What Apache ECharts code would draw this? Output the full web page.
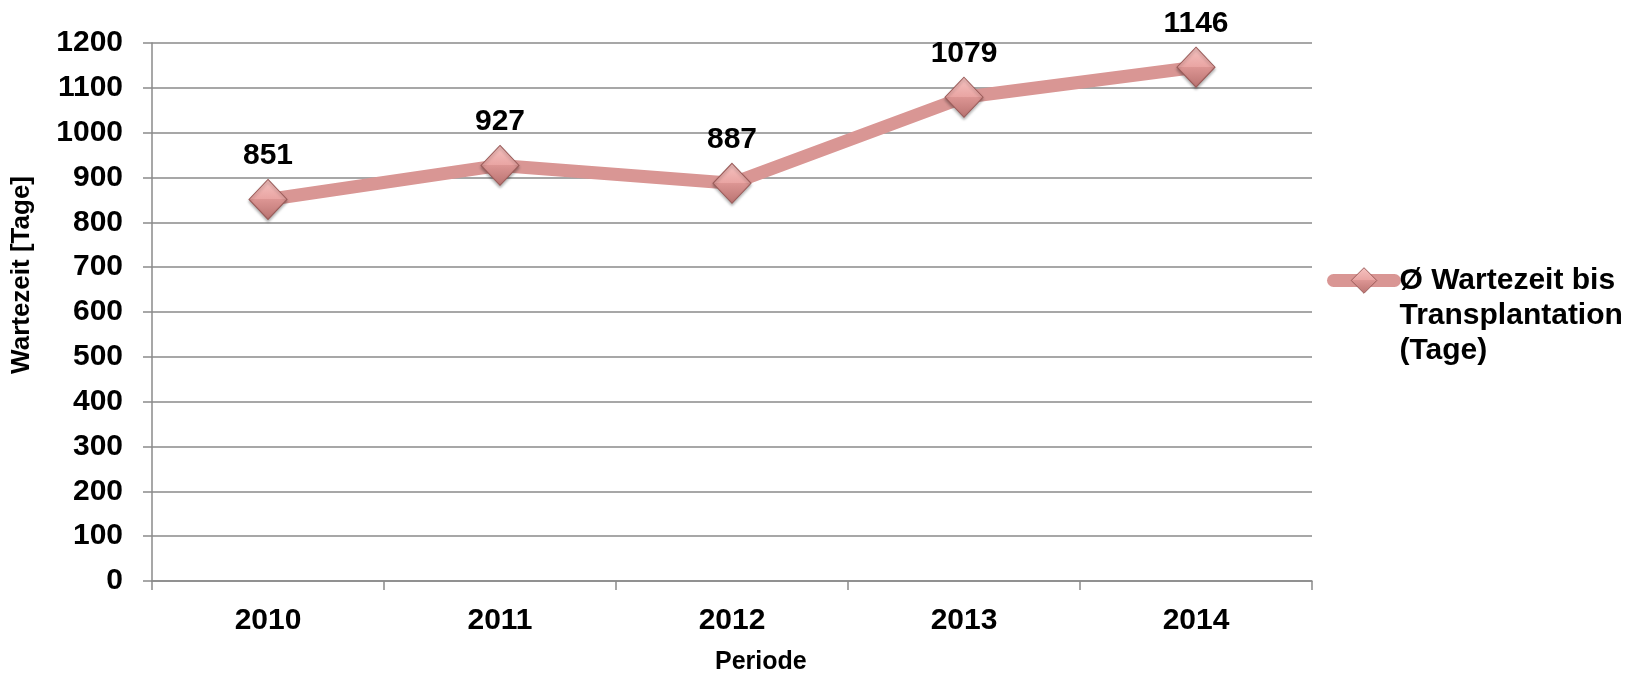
<!DOCTYPE html>
<html><head><meta charset="utf-8">
<script src="https://cdn.jsdelivr.net/npm/echarts@6/dist/echarts.min.js"></script>
<style>html,body{margin:0;padding:0;background:#fff}#c{width:1639px;height:678px}</style>
</head><body><div id="c"></div>
<script>
var categories = ['2010', '2011', '2012', '2013', '2014'];
var waitDays = [851, 927, 887, 1079, 1146];
var seriesName = 'Ø Wartezeit bis Transplantation (Tage)';
var legendLines = ['Ø Wartezeit bis', 'Transplantation', '(Tage)'];
var yTitle = 'Wartezeit [Tage]';
var xTitle = 'Periode';

var FONT = '"Liberation Sans", Arial, sans-serif';
var chart = echarts.init(document.getElementById('c'));
var markerFill = {
  type: 'linear', x: 0, y: 0, x2: 0, y2: 1,
  colorStops: [
    {offset: 0, color: '#f5c3c1'},
    {offset: 0.5, color: '#e9a4a2'},
    {offset: 0.5, color: '#dc9593'},
    {offset: 1, color: '#b97371'}
  ]
};
chart.setOption({
  animation: false,
  grid: {left: 152, right: 327, top: 43, bottom: 97},
  xAxis: {
    type: 'category', data: categories, boundaryGap: true,
    axisLine: {lineStyle: {color: '#8a8a8a', width: 1.5}},
    axisTick: {show: true, length: 9, lineStyle: {color: '#8a8a8a', width: 1.5}},
    axisLabel: {margin: 25, color: '#000', fontFamily: FONT, fontWeight: 'bold', fontSize: 30}
  },
  yAxis: {
    type: 'value', min: 0, max: 1200, interval: 100,
    axisLine: {show: true, lineStyle: {color: '#8a8a8a', width: 1.5}},
    axisTick: {show: true, length: 9, lineStyle: {color: '#8a8a8a', width: 1.5}},
    splitLine: {lineStyle: {color: '#8a8a8a', width: 1.5}},
    axisLabel: {margin: 29, color: '#000', fontFamily: FONT, fontWeight: 'bold', fontSize: 30,
      formatter: function (v) { return String(v); }}
  },
  legend: {
    left: 1322, top: 188, orient: 'vertical',
    itemWidth: 61, itemHeight: 32,
    lineStyle: {width: 13, cap: 'round'},
    itemStyle: {color: markerFill, borderColor: '#9a5a58', borderWidth: 1},
    formatter: function () { return '\n\n' + legendLines.join('\n'); },
    textStyle: {color: '#000', fontFamily: FONT, fontWeight: 'bold', fontSize: 30, lineHeight: 35}
  },
  graphic: [
    {type: 'text', left: 9, top: 176, rotation: Math.PI / 2,
     style: {text: yTitle, fill: '#000', font: 'bold 26px ' + FONT}},
    {type: 'text', left: 715, top: 650,
     style: {text: xTitle, fill: '#000', font: 'bold 25px ' + FONT}}
  ],
  series: [{
    name: seriesName, type: 'line', data: waitDays,
    lineStyle: {color: '#d99694', width: 13, cap: 'round', join: 'round'},
    itemStyle: {color: markerFill, borderColor: '#9a5a58', borderWidth: 1,
      shadowColor: 'rgba(0,0,0,0.3)', shadowBlur: 3, shadowOffsetY: 2},
    symbol: 'diamond', symbolSize: [38, 40],
    label: {show: true, position: 'top', distance: 8, color: '#000', fontFamily: FONT, fontWeight: 'bold', fontSize: 30}
  }]
});
</script></body></html>
